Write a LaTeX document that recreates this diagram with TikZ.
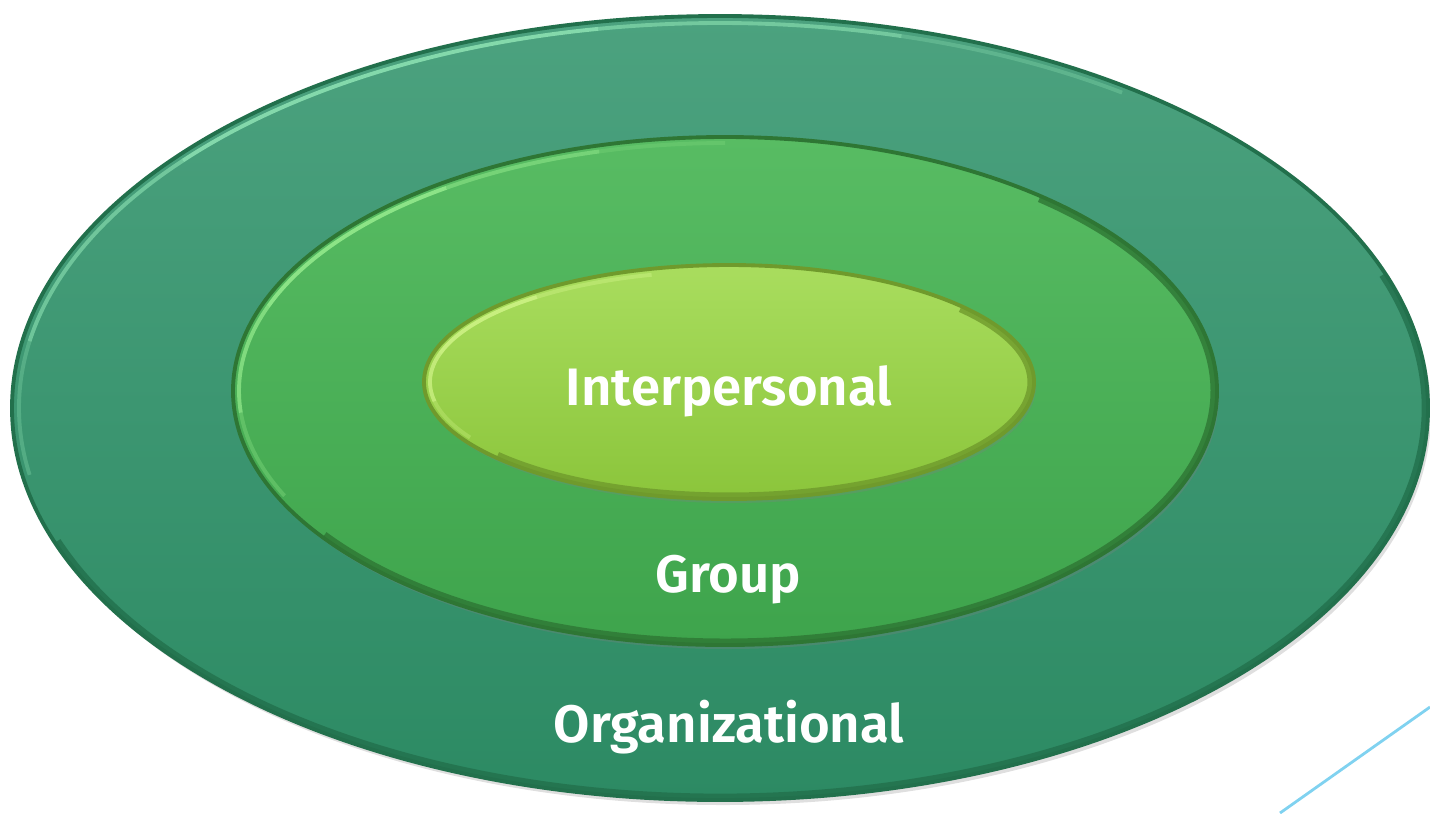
\documentclass[tikz,border=0pt]{standalone}
\usepackage{fontspec}
\setmainfont{Fira Sans}[BoldFont={Fira Sans SemiBold}]
\usetikzlibrary{shadows}

\definecolor{orgtop}{HTML}{4CA27F}
\definecolor{orgbot}{HTML}{2C8A63}
\definecolor{orgedge}{HTML}{22704C}
\definecolor{orghi}{HTML}{8EE3B4}
\definecolor{grptop}{HTML}{58BC63}
\definecolor{grpbot}{HTML}{3EA44C}
\definecolor{grpedge}{HTML}{2E7634}
\definecolor{grphi}{HTML}{96EC8E}
\definecolor{inttop}{HTML}{A9DD5E}
\definecolor{intbot}{HTML}{8BC53B}
\definecolor{intedge}{HTML}{6F9A2C}
\definecolor{inthi}{HTML}{D2F58A}
\definecolor{slideline}{HTML}{80D2F0}

\tikzset{
  level/.style={draw=#1edge, line width=1.1pt, top color=#1top, bottom color=#1bot},
  rim/.style={draw=#1hi, line width=1.1pt},
  lip/.style={draw=#1edge, line width=2pt, opacity=0.8},
  lvltext/.style={text=white, anchor=base, font=\bfseries\fontsize{15}{18}\selectfont}
}

\begin{document}
\begin{tikzpicture}
\useasboundingbox (0,0) rectangle (14.3,8.13);

% organizational ring
\path[level=org, drop shadow={shadow xshift=0.03, shadow yshift=-0.05, opacity=0.25}]
  (7.20,4.05) ellipse [x radius=7.08, y radius=3.92];
\draw[lip=org] (7.20,4.05) ++(200:7.05 and 3.89) arc [start angle=200, end angle=380, x radius=7.05, y radius=3.89];
\foreach \a/\b/\o in {190/170/0.3, 170/140/0.6, 140/100/0.85, 100/75/0.6, 75/55/0.3}
  \draw[rim=org, opacity=\o] (7.20,4.05) ++(\a:7.01 and 3.85) arc [start angle=\a, end angle=\b, x radius=7.01, y radius=3.85];

% group ring
\path[level=grp, drop shadow={shadow xshift=0.02, shadow yshift=-0.04, opacity=0.3}]
  (7.25,4.22) ellipse [x radius=4.92, y radius=2.54];
\draw[lip=grp] (7.25,4.22) ++(215:4.89 and 2.51) arc [start angle=215, end angle=410, x radius=4.89, y radius=2.51];
\foreach \a/\b/\o in {205/185/0.3, 185/160/0.7, 160/125/0.85, 125/105/0.5, 105/90/0.2}
  \draw[rim=grp, opacity=\o] (7.25,4.22) ++(\a:4.86 and 2.48) arc [start angle=\a, end angle=\b, x radius=4.86, y radius=2.48];

% interpersonal core
\path[level=int, drop shadow={shadow xshift=0.02, shadow yshift=-0.04, opacity=0.3}]
  (7.29,4.31) ellipse [x radius=3.05, y radius=1.17];
\draw[lip=int] (7.29,4.31) ++(220:3.02 and 1.14) arc [start angle=220, end angle=400, x radius=3.02, y radius=1.14];
\foreach \a/\b/\o in {210/190/0.3, 190/165/0.7, 165/130/0.8, 130/105/0.4}
  \draw[rim=int, opacity=\o] (7.29,4.31) ++(\a:2.99 and 1.11) arc [start angle=\a, end angle=\b, x radius=2.99, y radius=1.11];

\node[lvltext] (inter) at (7.29,4.08) {Interpersonal};
\node[lvltext] (group) at (7.28,2.21) {Group};
\node[lvltext] (org) at (7.29,0.71) {Organizational};

% corner line of the slide
\coordinate (lineA) at (12.8,0);
\coordinate (lineB) at (14.3,1.06);
\draw[slideline, line width=0.8pt] (lineA) -- (lineB);
\end{tikzpicture}
\end{document}
